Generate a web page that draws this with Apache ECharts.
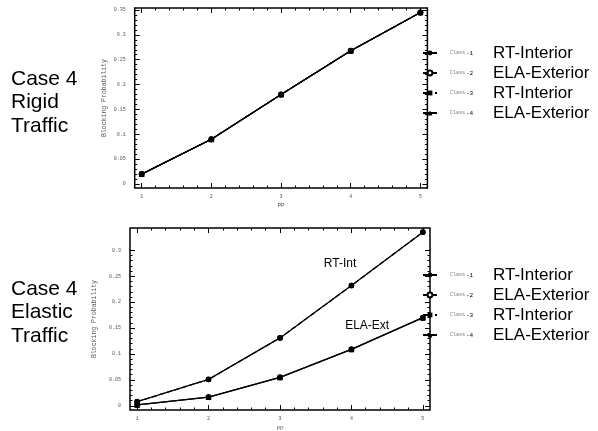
<!DOCTYPE html>
<html lang="en">
<head>
    <meta charset="UTF-8">
    <title>Case 4 Blocking Probability</title>
    <script src="https://cdn.jsdelivr.net/npm/echarts@6/dist/echarts.min.js"></script>
    <style>
        html, body { margin: 0; padding: 0; background: #fff; }
    </style>
</head>
<body>
    <div id="myChart" style="width: 598px;height: 431px;"></div>

    <script>
        // data
        const xValues = [1, 2, 3, 4, 5];
        const rigidBlocking = [0.02, 0.09, 0.18, 0.268, 0.345];
        const elasticRtInt = [0.008, 0.051, 0.131, 0.232, 0.335];
        const elasticElaExt = [0.002, 0.017, 0.055, 0.109, 0.170];

        const classNames = ['Class -1', 'Class -2', 'Class -3', 'Class -4'];
        const classLabels = ['RT-Interior', 'ELA-Exterior', 'RT-Interior', 'ELA-Exterior'];

        const xTicks = [1, 2, 3, 4, 5];
        const yTicksRigid = [0, 0.05, 0.1, 0.15, 0.2, 0.25, 0.3, 0.35];
        const yTicksElastic = [0, 0.05, 0.1, 0.15, 0.2, 0.25, 0.3];

        // annotation text in data coords of the elastic chart
        const noteTexts = ['RT-Int', 'ELA-Ext'];
        const notePos = [[3.84, 0.275], [4.22, 0.154]];

        const mono = 'Liberation Mono';
        const sans = 'Liberation Sans';

        function steps(from, to, step) {
            const out = [];
            for (let v = from; v <= to + 1e-9; v += step) out.push(Number(v.toFixed(4)));
            return out;
        }

        // 4 x axes per grid: bottom major / bottom minor / top major / top minor
        function makeXAxes(g, name) {
            const minor = steps(1, 5, 0.2);
            const base = {
                gridIndex: g, type: 'value', min: 0.9, max: 5.1,
                axisLine: { show: false, onZero: false },
                splitLine: { show: false },
            };
            return [
                Object.assign({}, base, {
                    position: 'bottom',
                    axisTick: { inside: true, length: 5, customValues: xTicks, lineStyle: { color: '#000' } },
                    axisLabel: { customValues: xTicks, fontSize: 5, fontFamily: mono, color: '#555', margin: 6 },
                    name: name, nameLocation: 'middle', nameGap: 14,
                    nameTextStyle: { fontSize: 6, fontFamily: mono, color: '#555' },
                }),
                Object.assign({}, base, {
                    position: 'bottom',
                    axisTick: { inside: true, length: 2.5, customValues: minor, lineStyle: { color: '#000' } },
                    axisLabel: { show: false },
                }),
                Object.assign({}, base, {
                    position: 'top',
                    axisTick: { inside: true, length: 5, customValues: xTicks, lineStyle: { color: '#000' } },
                    axisLabel: { show: false },
                }),
                Object.assign({}, base, {
                    position: 'top',
                    axisTick: { inside: true, length: 2.5, customValues: minor, lineStyle: { color: '#000' } },
                    axisLabel: { show: false },
                }),
            ];
        }

        function makeYAxes(g, max, ticks) {
            const minor = steps(0, ticks[ticks.length - 1], 0.01);
            const base = {
                gridIndex: g, type: 'value', min: -0.008, max: max,
                axisLine: { show: false, onZero: false },
                splitLine: { show: false },
            };
            return [
                Object.assign({}, base, {
                    position: 'left',
                    axisTick: { inside: true, length: 5, customValues: ticks, lineStyle: { color: '#000' } },
                    axisLabel: { customValues: ticks, fontSize: 5, fontFamily: mono, color: '#555', margin: 9 },
                    name: 'Blocking Probability', nameLocation: 'middle', nameGap: 27,
                    nameTextStyle: { fontSize: 6.5, fontFamily: mono, color: '#555' },
                }),
                Object.assign({}, base, {
                    position: 'left',
                    axisTick: { inside: true, length: 2.5, customValues: minor, lineStyle: { color: '#000' } },
                    axisLabel: { show: false },
                }),
                Object.assign({}, base, {
                    position: 'right',
                    axisTick: { inside: true, length: 5, customValues: ticks, lineStyle: { color: '#000' } },
                    axisLabel: { show: false },
                }),
                Object.assign({}, base, {
                    position: 'right',
                    axisTick: { inside: true, length: 2.5, customValues: minor, lineStyle: { color: '#000' } },
                    axisLabel: { show: false },
                }),
            ];
        }

        const symbols = ['circle', 'emptyCircle', 'rect', 'triangle'];
        const symbolSizes = [5, 4, 4, 5];
        const lineTypes = ['solid', 'solid', 'dashed', 'solid'];
        const zs = [5, 3, 2, 4];

        function makeSeries(g, valuesByClass) {
            return classNames.map((name, i) => ({
                name: name,
                type: 'line',
                xAxisIndex: g * 4,
                yAxisIndex: g * 4,
                data: xValues.map((x, k) => [x, valuesByClass[i][k]]),
                symbol: symbols[i],
                symbolSize: symbolSizes[i],
                z: zs[i],
                color: '#000',
                lineStyle: { color: '#000', width: 1.3, type: lineTypes[i] },
                itemStyle: { color: '#000', borderColor: '#000' },
                animation: false,
            }));
        }

        function makeLegend(top) {
            return {
                data: classNames,
                orient: 'vertical',
                left: 422, top: top,
                padding: 0,
                itemGap: 0,
                itemWidth: 14, itemHeight: 6,
                selectedMode: false,
                formatter: name => {
                    const i = classNames.indexOf(name);
                    const parts = name.split(' ');
                    return '{c|' + parts[0] + '}{n|' + parts[1] + '}{b|' + classLabels[i] + '}';
                },
                textStyle: {
                    lineHeight: 20,
                    rich: {
                        c: { fontSize: 5, fontFamily: mono, color: '#777', padding: [0, 0, 0, 8], width: 16 },
                        n: { fontSize: 6, fontFamily: mono, color: '#000', width: 10 },
                        b: { fontSize: 17, fontFamily: sans, color: '#000', padding: [0, 0, 0, 17], lineHeight: 20 },
                    },
                },
            };
        }

        const chart = echarts.init(document.getElementById('myChart'));

        const elasticSeries = makeSeries(1, [elasticRtInt, elasticElaExt, elasticRtInt, elasticElaExt]);
        elasticSeries[0].markPoint = {
            symbol: 'circle', symbolSize: 1,
            itemStyle: { color: 'rgba(0,0,0,0)' },
            label: {
                show: true, position: 'inside', formatter: p => p.name,
                fontSize: 12, fontFamily: sans, color: '#000',
            },
            data: noteTexts.map((t, i) => ({ name: t, coord: notePos[i] })),
        };

        const option = {
            animation: false,
            title: [
                {
                    text: 'Case 4\nRigid\nTraffic', left: 11, top: 67, padding: 0,
                    textStyle: { fontSize: 21, lineHeight: 23.5, fontWeight: 'normal', fontFamily: sans, color: '#000' },
                },
                {
                    text: 'Case 4\nElastic\nTraffic', left: 11, top: 277, padding: 0,
                    textStyle: { fontSize: 21, lineHeight: 23.5, fontWeight: 'normal', fontFamily: sans, color: '#000' },
                },
            ],
            legend: [makeLegend(43), makeLegend(265)],
            grid: [
                { left: 134.7, top: 8, right: 170.6, bottom: 243, show: true, borderColor: '#000', borderWidth: 1.5, backgroundColor: 'transparent' },
                { left: 130, top: 228, right: 168, bottom: 18, show: true, borderColor: '#000', borderWidth: 1.5, backgroundColor: 'transparent' },
            ],
            xAxis: makeXAxes(0, 'PP').concat(makeXAxes(1, 'pp')),
            yAxis: makeYAxes(0, 0.354, yTicksRigid).concat(makeYAxes(1, 0.343, yTicksElastic)),
            series: makeSeries(0, [rigidBlocking, rigidBlocking, rigidBlocking, rigidBlocking]).concat(elasticSeries),
        };
        chart.setOption(option);
    </script>
</body>
</html>
